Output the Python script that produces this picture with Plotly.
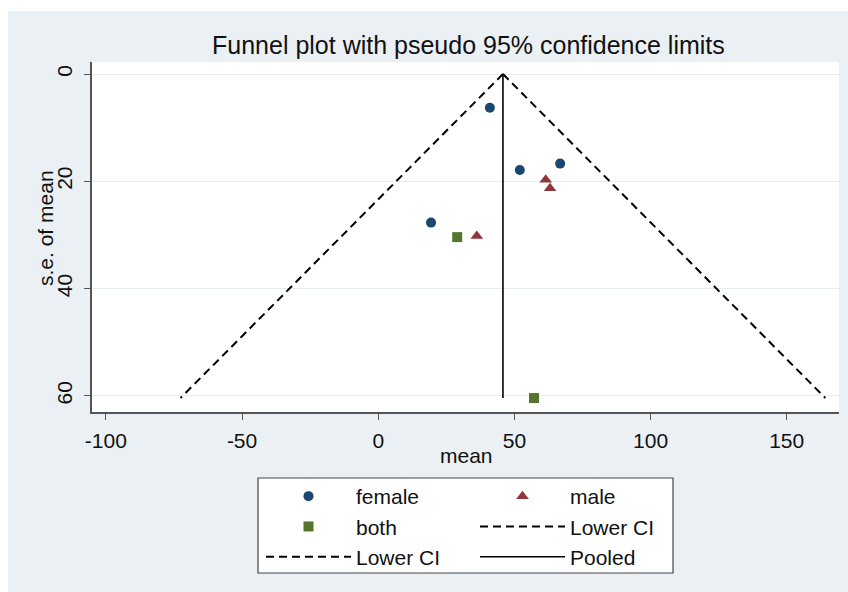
import plotly.graph_objects as go

# ---- data ----
female_mean = [41.0, 52.0, 66.8, 19.4]
female_se = [6.3, 17.9, 16.7, 27.7]
male_mean = [61.5, 63.1, 36.2]
male_se = [19.7, 21.3, 30.2]
both_mean = [29.0, 57.2]
both_se = [30.4, 60.4]

line_se = [0, 60.4]
lower_ci = [45.8, -72.6]
upper_ci = [45.8, 164.2]
pooled = [45.8, 45.8]

x_ticks = [-100, -50, 0, 50, 100, 150]
y_ticks = [0, 20, 40, 60]

FONT = "Liberation Sans, Arial, sans-serif"
BG = "#eaf0f3"
DASH = "8px,5px"

fig = go.Figure()
# column 1 of the legend: female, both, Lower CI ; column 2: male, Lower CI, Pooled
fig.add_trace(go.Scatter(x=female_mean, y=female_se, mode="markers", name="female", legend="legend",
                         marker=dict(symbol="circle", size=10, color="#1a476f")))
fig.add_trace(go.Scatter(x=male_mean, y=male_se, mode="markers", name="male", legend="legend2",
                         marker=dict(symbol="triangle-up", size=11, color="#90353b")))
fig.add_trace(go.Scatter(x=both_mean, y=both_se, mode="markers", name="both", legend="legend",
                         marker=dict(symbol="square", size=10, color="#55752f")))
fig.add_trace(go.Scatter(x=lower_ci, y=line_se, mode="lines", name="Lower CI", legend="legend2",
                         line=dict(color="black", width=2, dash=DASH)))
fig.add_trace(go.Scatter(x=upper_ci, y=line_se, mode="lines", name="Lower CI", legend="legend",
                         line=dict(color="black", width=2, dash=DASH)))
fig.add_trace(go.Scatter(x=pooled, y=line_se, mode="lines", name="Pooled", legend="legend2",
                         line=dict(color="black", width=1.6)))

# plot area in pixels: x 92..839, y 62..412
L, R, T, B = 92, 9, 62, 180
PW, PH = 848 - L - R, 592 - T - B


def px(xp):
    return (xp - L) / PW


def py(yp):
    return (592 - B - yp) / PH


legend_common = dict(
    orientation="v", xanchor="left", yanchor="top",
    bgcolor="rgba(0,0,0,0)", borderwidth=0,
    font=dict(size=21, family=FONT, color="#111111"),
    itemwidth=85, traceorder="normal", tracegroupgap=0,
)

fig.update_layout(
    width=848, height=592,
    margin=dict(l=L, r=R, t=T, b=B, pad=0, autoexpand=False),
    paper_bgcolor=BG,
    plot_bgcolor="white",
    font=dict(family=FONT, color="#111111"),
    showlegend=True,
    legend=dict(x=px(261), y=py(476), **legend_common),
    legend2=dict(x=px(475), y=py(476), **legend_common),
    xaxis=dict(
        range=[-105.1, 169.2], tickmode="array", tickvals=x_ticks,
        ticktext=[str(v) for v in x_ticks],
        showgrid=False, zeroline=False, showline=True, linecolor="#555555", linewidth=1.5,
        ticks="outside", ticklen=6, tickwidth=1.2, tickcolor="#555555",
        tickfont=dict(size=21, family=FONT, color="#111111"), ticklabelstandoff=3,
    ),
    yaxis=dict(
        range=[63.0, -2.24], tickmode="array", tickvals=y_ticks,
        ticktext=[str(v) for v in y_ticks], tickangle=-90,
        showgrid=True, gridcolor="#e6ecef", gridwidth=1,
        zeroline=False, showline=True, linecolor="#555555", linewidth=1.5,
        ticks="outside", ticklen=6, tickwidth=1.2, tickcolor="#555555",
        tickfont=dict(size=21, family=FONT, color="#111111"), ticklabelstandoff=4,
    ),
    shapes=[
        # white strips outside the grey graph region
        dict(type="rect", xref="paper", yref="paper", x0=-0.3, x1=1.2,
             y0=py(11), y1=py(-20), fillcolor="white", line=dict(width=0), layer="below"),
        dict(type="rect", xref="paper", yref="paper", x0=-0.3, x1=px(8),
             y0=py(620), y1=py(-20), fillcolor="white", line=dict(width=0), layer="below"),
        # legend box
        dict(type="rect", xref="paper", yref="paper", x0=px(258), x1=px(673),
             y0=py(573), y1=py(478), fillcolor="white",
             line=dict(width=1.2, color="#444444"), layer="below"),
    ],
    annotations=[
        dict(text="Funnel plot with pseudo 95% confidence limits", xref="paper", yref="paper",
             x=px(468), y=py(45), xanchor="center", yanchor="middle", showarrow=False,
             font=dict(size=25, family=FONT, color="#111111")),
        dict(text="mean", xref="paper", yref="paper",
             x=px(466), y=py(455), xanchor="center", yanchor="middle", showarrow=False,
             font=dict(size=21, family=FONT, color="#111111")),
        dict(text="s.e. of mean", xref="paper", yref="paper", textangle=-90,
             x=px(45), y=py(228), xanchor="center", yanchor="middle", showarrow=False,
             font=dict(size=21, family=FONT, color="#111111")),
    ],
)

fig.write_html("out.html")
